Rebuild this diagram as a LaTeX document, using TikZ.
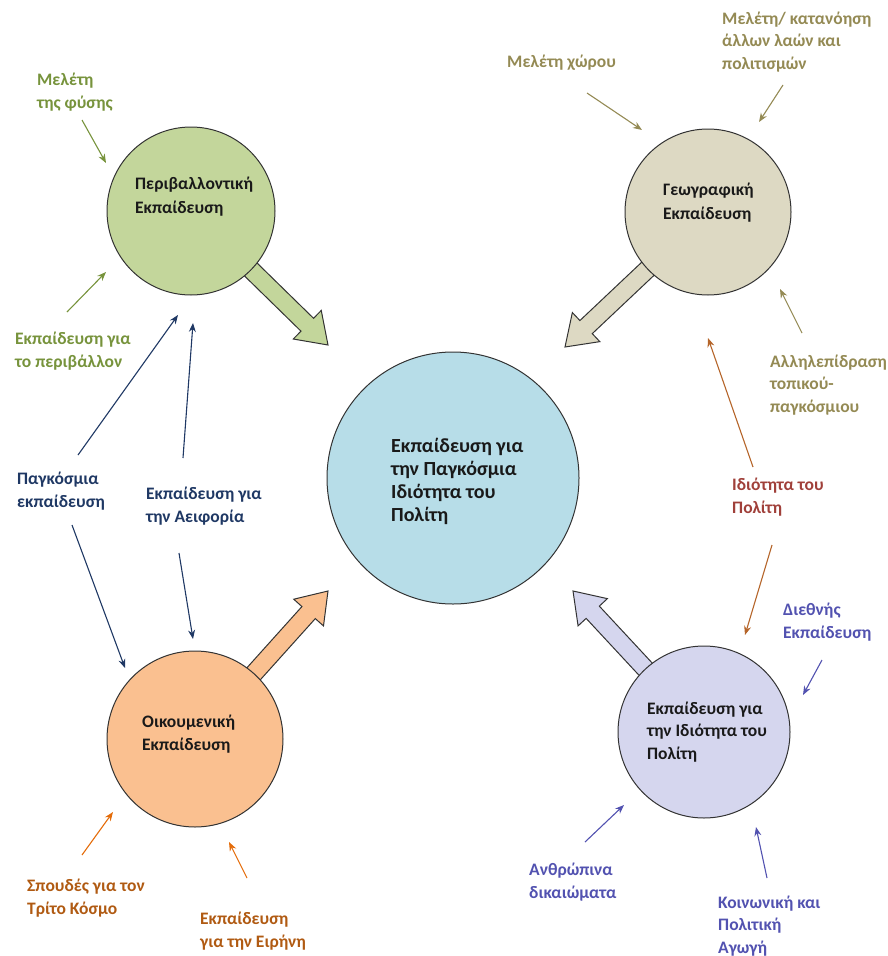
\documentclass[tikz,border=0pt]{standalone}
\usepackage{fontspec}
\setmainfont{Carlito}
\usetikzlibrary{calc,arrows.meta,backgrounds}
\definecolor{fgreen}{HTML}{C3D69B}
\definecolor{fbeige}{HTML}{DDD9C3}
\definecolor{fblue}{HTML}{B7DDE8}
\definecolor{forange}{HTML}{FAC090}
\definecolor{flav}{HTML}{D5D6EE}
\definecolor{tgreen}{HTML}{77933C}
\definecolor{ttan}{HTML}{948A54}
\definecolor{tnavy}{HTML}{1F3864}
\definecolor{torange}{HTML}{B05A12}
\definecolor{aorange}{HTML}{E46C0A}
\definecolor{tred}{HTML}{A0403A}
\definecolor{abrown}{HTML}{B5652A}
\definecolor{tviolet}{HTML}{5252B0}
\definecolor{edge}{HTML}{333333}
\newcommand\blockarrow[3]{%
  \coordinate (ba-b) at ($(#3)!29pt!(#2)$);
  \draw[#1] ($(#2)!9pt!90:(#3)$) -- ($(ba-b)!9pt!90:(#3)$) -- ($(ba-b)!20pt!90:(#3)$) -- (#3)
    -- ($(ba-b)!20pt!-90:(#3)$) -- ($(ba-b)!9pt!-90:(#3)$) -- ($(#2)!9pt!-90:(#3)$) -- cycle;}
\tikzset{
  circ/.style={circle, draw=edge, line width=1pt, inner sep=0pt},
  ctext/.style={font=\fontsize{17.5}{24}\selectfont\bfseries, text=black!90, align=left, anchor=west, inner sep=0pt},
  lbl/.style={font=\fontsize{17.5}{22.5}\selectfont\bfseries, align=left, anchor=west, inner sep=0pt},
  thin/.style={line width=1.1pt, -{Stealth[length=9pt,width=7pt]}},
  barrow/.style={draw=edge, line width=1pt, line join=miter}
}
\begin{document}
\begin{tikzpicture}[x=1pt,y=-1pt]
\useasboundingbox (0,0) rectangle (887,956);
% circles
\node[circ, fill=fgreen, minimum size=168pt] (green) at (191,211) {};
\node[circ, fill=fbeige, minimum size=166pt] (beige) at (708,212) {};
\node[circ, fill=fblue, minimum size=252pt] (center) at (453,478) {};
\node[circ, fill=forange, minimum size=176pt] (orange) at (195,739) {};
\node[circ, fill=flav, minimum size=172pt] (lav) at (704,732) {};
% circle texts
\node[ctext] (greenT) at (135,197) {Περιβαλλοντική\\Εκπαίδευση};
\node[ctext] (beigeT) at (663,203) {Γεωγραφική\\Εκπαίδευση};
\node[ctext, font=\fontsize{20}{23}\selectfont\bfseries] (centerT) at (391,481) {Εκπαίδευση για\\την Παγκόσμια\\Ιδιότητα του\\Πολίτη};
\node[ctext, font=\fontsize{17.5}{22.5}\selectfont\bfseries] (orangeT) at (142,734) {Οικουμενική\\Εκπαίδευση};
\node[ctext, font=\fontsize{17.5}{22.5}\selectfont\bfseries] (lavT) at (647,732) {Εκπαίδευση για\\την Ιδιότητα του\\Πολίτη};
% block arrows
\begin{scope}[on background layer]
\coordinate (tipG) at (328,345);
\coordinate (tipB) at (565,347);
\coordinate (tipO) at (328,591);
\coordinate (tipL) at (573,591);
\blockarrow{barrow, fill=fgreen}{green.center}{tipG}
\blockarrow{barrow, fill=fbeige}{beige.center}{tipB}
\blockarrow{barrow, fill=forange}{orange.center}{tipO}
\blockarrow{barrow, fill=flav}{lav.center}{tipL}
\end{scope}
% labels
\node[lbl, text=tgreen] (l1) at (37,92) {Μελέτη\\της φύσης};
\node[lbl, text=tgreen] (l2) at (15,351) {Εκπαίδευση για\\το περιβάλλον};
\node[lbl, text=tnavy] (l3) at (17,491) {Παγκόσμια\\εκπαίδευση};
\node[lbl, text=tnavy] (l4) at (146,506) {Εκπαίδευση για\\την Αειφορία};
\node[lbl, text=torange] (l5) at (27,898) {Σπουδές για τον\\Τρίτο Κόσμο};
\node[lbl, text=torange] (l6) at (200,931) {Εκπαίδευση\\για την Ειρήνη};
\node[lbl, text=ttan] (l7) at (507,63) {Μελέτη χώρου};
\node[lbl, text=ttan] (l8) at (722,42) {Μελέτη/ κατανόηση\\άλλων λαών και\\πολιτισμών};
\node[lbl, text=ttan] (l9) at (770,385) {Αλληλεπίδραση\\τοπικού-\\παγκόσμιου};
\node[lbl, text=tred] (l10) at (732,497) {Ιδιότητα του\\Πολίτη};
\node[lbl, text=tviolet] (l11) at (783,622) {Διεθνής\\Εκπαίδευση};
\node[lbl, text=tviolet] (l12) at (529,882) {Ανθρώπινα\\δικαιώματα};
\node[lbl, text=tviolet] (l13) at (718,926) {Κοινωνική και\\Πολιτική\\Αγωγή};
% thin arrow end points
\coordinate (a1s) at (82,120);  \coordinate (a1e) at (106,163);
\coordinate (a2s) at (67,312);  \coordinate (a2e) at (106,272);
\coordinate (a3s) at (78,455);  \coordinate (a3e) at (178,315);
\coordinate (a4s) at (183,458); \coordinate (a4e) at (193,323);
\coordinate (a5s) at (72,525);  \coordinate (a5e) at (125,668);
\coordinate (a6s) at (179,553); \coordinate (a6e) at (193,639);
\coordinate (a7s) at (82,855);  \coordinate (a7e) at (113,812);
\coordinate (a8s) at (247,878); \coordinate (a8e) at (229,842);
\coordinate (a9s) at (587,93);  \coordinate (a9e) at (642,130);
\coordinate (a10s) at (783,85); \coordinate (a10e) at (759,122);
\coordinate (a11s) at (802,333); \coordinate (a11e) at (780,289);
\coordinate (a12s) at (753,467); \coordinate (a12e) at (708,338);
\coordinate (a13s) at (772,545); \coordinate (a13e) at (745,635);
\coordinate (a14s) at (822,660); \coordinate (a14e) at (803,695);
\coordinate (a15s) at (585,842); \coordinate (a15e) at (624,805);
\coordinate (a16s) at (767,878); \coordinate (a16e) at (756,827);
\draw[thin, tgreen] (a1s) -- (a1e);
\draw[thin, tgreen] (a2s) -- (a2e);
\draw[thin, tnavy] (a3s) -- (a3e);
\draw[thin, tnavy] (a4s) -- (a4e);
\draw[thin, tnavy] (a5s) -- (a5e);
\draw[thin, tnavy] (a6s) -- (a6e);
\draw[thin, aorange] (a7s) -- (a7e);
\draw[thin, aorange] (a8s) -- (a8e);
\draw[thin, ttan] (a9s) -- (a9e);
\draw[thin, ttan] (a10s) -- (a10e);
\draw[thin, ttan] (a11s) -- (a11e);
\draw[thin, abrown] (a12s) -- (a12e);
\draw[thin, abrown] (a13s) -- (a13e);
\draw[thin, tviolet] (a14s) -- (a14e);
\draw[thin, tviolet] (a15s) -- (a15e);
\draw[thin, tviolet] (a16s) -- (a16e);
\end{tikzpicture}
\end{document}
